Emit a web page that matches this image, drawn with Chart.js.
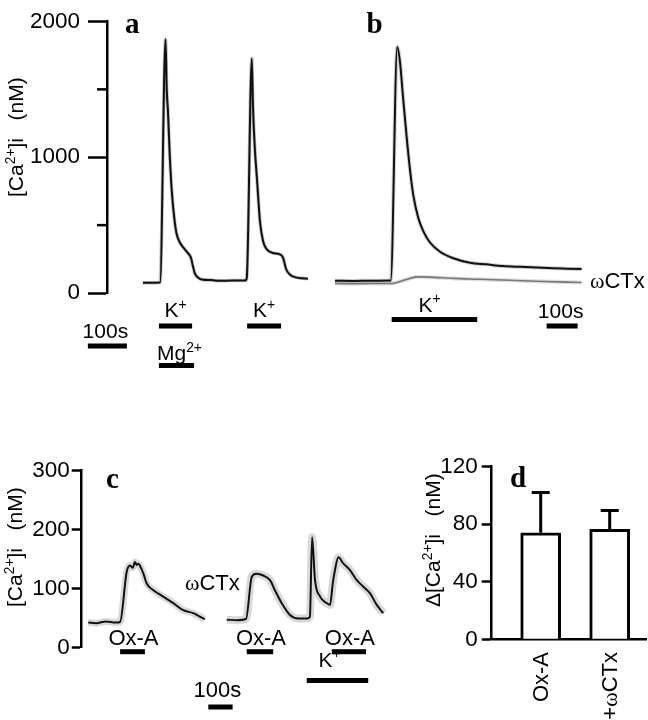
<!DOCTYPE html>
<html><head><meta charset="utf-8">
<script src="https://cdn.jsdelivr.net/npm/chart.js@4/dist/chart.umd.min.js"></script>
<style>
html,body{margin:0;padding:0;background:#fff;}
body{width:648px;height:720px;position:relative;overflow:hidden;}
canvas{position:absolute;}
</style></head><body>
<canvas id="ca" width="320" height="390" style="left:0;top:0"></canvas>
<canvas id="cb" width="328" height="390" style="left:320px;top:0"></canvas>
<canvas id="cc" width="400" height="280" style="left:0;top:440px"></canvas>
<canvas id="cd" width="248" height="280" style="left:400px;top:440px"></canvas>
<script>
// ---------------- DATA ----------------
// Panel a: [Ca2+]i (nM) vs time (s)
const aTime = [0, 20, 44, 58, 61, 64, 69, 74, 80, 86, 95, 105, 115, 123, 128, 133, 141, 151, 175, 197, 230, 262, 266, 279, 282, 287, 292, 300, 308, 318, 333, 351, 359, 367, 377, 392, 410, 423];
const aCa   = [75, 76, 78, 1870, 1500, 1350, 1000, 750, 560, 440, 370, 330, 295, 260, 200, 145, 115, 100, 95, 90, 92, 92, 110, 1727, 1370, 1050, 850, 525, 380, 320, 295, 285, 260, 175, 135, 115, 108, 105];
const aYTicks = [0, 1000, 2000];
const aKStart = [41, 267], aKEnd = [126, 354];
const aMgStart = [41], aMgEnd = [131];
const aScaleBar = [-141, -41];

// Panel b: control and ωCTx traces
const bTime = [0, 60, 120, 180, 201, 210, 220, 231, 242, 253, 269, 285, 306, 339, 382, 436, 489, 543, 597, 651, 704, 750, 796];
const bControl = [88, 87, 89, 90, 1770, 1660, 1400, 1130, 890, 700, 540, 445, 365, 297, 250, 218, 206, 194, 188, 183, 178, 175, 172];
const bTimeCTx = [0, 60, 120, 177, 194, 219, 242, 265, 306, 382, 468, 543, 650, 796];
const bCTx = [68, 67, 68, 68, 72, 90, 105, 116, 114, 105, 99, 93, 84, 76];
const bKStart = [183], bKEnd = [459];
const bScaleBar = [683, 783];

// Panel c: Ox-A responses
const c1Time = [27, 60, 100, 140, 158, 185, 199, 210, 219, 226, 233, 244, 254, 268, 295, 336, 377, 418, 459, 500, 507];
const c1Ca   = [42, 41, 44, 42, 43, 128, 139, 135, 145, 140, 142, 135, 125, 108, 97, 86, 75, 63, 58, 49, 48];
const c2Time = [597, 640, 676, 700, 720, 747, 775, 795, 823, 857, 891, 930, 939, 948, 960, 981, 1008, 1022, 1033, 1042, 1056, 1077, 1104, 1132, 1159, 1186, 1214, 1241];
const c2Ca   = [47, 46, 48, 120, 125, 122, 114, 97, 75, 55, 49, 49, 52, 187, 114, 86, 75, 72, 108, 131, 153, 142, 131, 114, 103, 92, 72, 58];
const cYTicks = [0, 100, 200, 300];
const cOxStart = [158, 679, 1029], cOxEnd = [260, 788, 1170];
const cKStart = [926], cKEnd = [1179];
const cScaleBar = [521, 621];

// Panel d: bar chart
const dCategories = ['Ox-A', '+ωCTx'];
const dMean = [74, 76.5];
const dSem = [28, 13];
const dYTicks = [0, 40, 80, 120];

// ---------------- HELPERS ----------------
const FONT = '"Liberation Sans", Arial, sans-serif';
const SERIF = '"Liberation Serif", "Times New Roman", serif';
const TICKSIZE = 22.5;
Chart.defaults.font.family = FONT;
Chart.defaults.font.size = 21;
Chart.defaults.color = '#000';
Chart.defaults.animation = false;
Chart.defaults.plugins.legend.display = false;
Chart.defaults.plugins.tooltip.enabled = false;

function richParts(text){
  const parts=[]; let cur='', sup=false;
  for (const ch of text){
    if (ch==='{'){ if(cur) parts.push({t:cur,sup}); cur=''; sup=true; }
    else if (ch==='}'){ if(cur) parts.push({t:cur,sup}); cur=''; sup=false; }
    else cur+=ch;
  }
  if(cur) parts.push({t:cur,sup});
  const out=[];
  parts.forEach(p=>p.t.split(/(ω)/).forEach(s=>{ if(s) out.push({t:s,sup:p.sup,serif:s==='ω'}); }));
  return out;
}
function fontFor(p,size){ const s = p.sup? size*0.66 : size; return s+'px '+(p.serif?SERIF:FONT); }
function drawRich(ctx,text,x,y,size,align){
  const parts=richParts(text);
  let w=0; parts.forEach(p=>{ctx.font=fontFor(p,size); p.w=ctx.measureText(p.t).width; w+=p.w;});
  let cx = align==='center'? x-w/2 : align==='right'? x-w : x;
  ctx.textBaseline='alphabetic'; ctx.textAlign='left'; ctx.fillStyle='#000';
  parts.forEach(p=>{ctx.font=fontFor(p,size); ctx.fillText(p.t,cx, y-(p.sup? size*0.4:0)); cx+=p.w;});
  return w;
}
function drawRotRich(ctx,text,x,y,size,align){
  ctx.save(); ctx.translate(x,y); ctx.rotate(-Math.PI/2);
  drawRich(ctx,text,0,0,size,align); ctx.restore();
}
function letter(ctx,t,x,y){
  ctx.save(); ctx.font='bold 29px '+SERIF; ctx.fillStyle='#000';
  ctx.textAlign='left'; ctx.textBaseline='alphabetic'; ctx.fillText(t,x,y); ctx.restore();
}
function hbar(ctx,chart,start,end,y){
  const xs=chart.scales.x;
  const x1=xs.getPixelForValue(start), x2=xs.getPixelForValue(end);
  ctx.save(); ctx.fillStyle='#000'; ctx.fillRect(x1,y-2.5,x2-x1,5); ctx.restore();
  return (x1+x2)/2;
}
function pts(xs,ys){ return xs.map((x,i)=>({x, y: ys[i]})); }
function yAxis(min,max,step,width,tickLen,pad,labelled){
  return {
    type:'linear', min, max, position:'left',
    afterFit: s => { s.width = width; },
    border:{display:true,color:'#000',width:2.5},
    grid:{drawOnChartArea:false,drawTicks:true,tickLength:tickLen,tickWidth:2.5,
      tickColor: c => (labelled.includes(c.tick.value) ? '#000' : 'rgba(0,0,0,0)')},
    ticks:{stepSize:step,padding:pad,autoSkip:false,color:'#000',font:{size:TICKSIZE,family:FONT},
      callback: v => (labelled.includes(v) ? String(v) : '')}
  };
}
function line(data,color,width){
  return {type:'line',data,borderColor:color,borderWidth:width,pointRadius:0,fill:false,
    cubicInterpolationMode:'monotone'};
}
const TITLE = '[Ca{2+}]i   (nM)';

// ---------------- PANEL A ----------------
new Chart(document.getElementById('ca'), {
  type:'line',
  data:{datasets:[ line(pts(aTime,aCa),'#111',2), line(pts(aTime,aCa),'rgba(0,0,0,0.25)',3.5) ]},
  options:{responsive:false,
    layout:{padding:{left:0,top:15,right:3,bottom:97}},
    scales:{ x:{type:'linear',display:false,min:-92,max:446},
             y: yAxis(0,2000,500,107,19,8,aYTicks) },
  },
  plugins:[{id:'decoA',afterDraw(chart){
    const ctx=chart.ctx, ys=chart.scales.y, L=chart.chartArea.left;
    ctx.save(); ctx.strokeStyle='#000'; ctx.lineWidth=2.5;
    [500,1500].forEach(v=>{const y=ys.getPixelForValue(v); ctx.beginPath(); ctx.moveTo(L-10,y); ctx.lineTo(L,y); ctx.stroke();});
    ctx.restore();
    drawRotRich(ctx,TITLE,23,197,21,'left');
    letter(ctx,'a',125,33);
    aKStart.forEach((s,i)=>{ const cx=hbar(ctx,chart,s,aKEnd[i],326); drawRich(ctx,'K{+}',cx,317,21,'center'); });
    aMgStart.forEach((s,i)=>{ const cx=hbar(ctx,chart,s,aMgEnd[i],365.5); drawRich(ctx,'Mg{2+}',cx+3,360,21,'center'); });
    const cx=hbar(ctx,chart,aScaleBar[0],aScaleBar[1],346); drawRich(ctx,'100s',cx-2,338,21,'center');
  }}]
});

// ---------------- PANEL B ----------------
new Chart(document.getElementById('cb'), {
  type:'line',
  data:{datasets:[
    line(pts(bTime,bControl),'#111',2),
    line(pts(bTimeCTx,bCTx),'#777',1.6),
    line(pts(bTime,bControl),'rgba(0,0,0,0.18)',4),
    line(pts(bTimeCTx,bCTx),'rgba(0,0,0,0.12)',4)
  ]},
  options:{responsive:false,
    layout:{padding:{left:10,top:15,right:58,bottom:97}},
    scales:{ x:{type:'linear',display:false,min:-16,max:823},
             y:{type:'linear',display:false,min:0,max:2000} },
  },
  plugins:[{id:'decoB',afterDraw(chart){
    const ctx=chart.ctx;
    letter(ctx,'b',46.5,33);
    bKStart.forEach((s,i)=>{ const cx=hbar(ctx,chart,s,bKEnd[i],319.5); drawRich(ctx,'K{+}',cx-5,311.7,21,'center'); });
    const cx=hbar(ctx,chart,bScaleBar[0],bScaleBar[1],326); drawRich(ctx,'100s',cx-1.5,317.7,21,'center');
    drawRich(ctx,'ωCTx',270,288,22,'left');
  }}]
});

// ---------------- PANEL C ----------------
new Chart(document.getElementById('cc'), {
  type:'line',
  data:{datasets:[
    line(pts(c1Time,c1Ca),'#111',2),
    line(pts(c2Time,c2Ca),'#111',2),
    line(pts(c1Time,c1Ca),'rgba(0,0,0,0.15)',7),
    line(pts(c2Time,c2Ca),'rgba(0,0,0,0.15)',8)
  ]},
  options:{responsive:false,
    layout:{padding:{left:0,top:30.7,right:10,bottom:72.7}},
    scales:{ x:{type:'linear',display:false,min:0,max:1268.6},
             y: yAxis(0,300,100,81.7,10,2,cYTicks) },
  },
  plugins:[{id:'decoC',afterDraw(chart){
    const ctx=chart.ctx;
    drawRotRich(ctx,TITLE,22,167,21,'left');
    letter(ctx,'c',106,48);
    cOxStart.forEach((s,i)=>{ const cx=hbar(ctx,chart,s,cOxEnd[i],211.7); drawRich(ctx,'Ox-A',cx+1,205,22,'center'); });
    cKStart.forEach((s,i)=>{ const cx=hbar(ctx,chart,s,cKEnd[i],240.5); drawRich(ctx,'K{+}',cx-8,226.7,21,'center'); });
    const cx=hbar(ctx,chart,cScaleBar[0],cScaleBar[1],267); drawRich(ctx,'100s',cx-3,256.7,22,'center');
    drawRich(ctx,'ωCTx',185,150,22,'left');
  }}]
});

// ---------------- PANEL D ----------------
new Chart(document.getElementById('cd'), {
  type:'bar',
  data:{datasets:[{
    data: dMean.map((v,i)=>({x:i+1,y:v})),
    backgroundColor:'#fff', borderColor:'#000', borderWidth:3, barThickness:40, borderSkipped:'start'
  }]},
  options:{responsive:false,
    layout:{padding:{left:0,top:26.7,right:1.3,bottom:80.7}},
    scales:{
      x:{type:'linear',min:0.29,max:2.536,display:true,offset:false,bounds:'data',
         afterFit: s => { s.height = 0; },
         border:{display:true,color:'#000',width:2.5},
         grid:{offset:false,drawOnChartArea:false,drawTicks:false}, ticks:{display:false}},
      y: yAxis(0,120,40,91.7,10,4,dYTicks)
    },
  },
  plugins:[{id:'decoD',afterDatasetsDraw(chart){
    const ctx=chart.ctx, xs=chart.scales.x, ys=chart.scales.y;
    ctx.save(); ctx.strokeStyle='#000'; ctx.lineWidth=3;
    dMean.forEach((m,i)=>{
      const x=xs.getPixelForValue(i+1), y0=ys.getPixelForValue(m), y1=ys.getPixelForValue(m+dSem[i]);
      ctx.beginPath(); ctx.moveTo(x,y0); ctx.lineTo(x,y1); ctx.moveTo(x-9,y1); ctx.lineTo(x+9,y1); ctx.stroke();
    });
    ctx.restore();
  }, afterDraw(chart){
    const ctx=chart.ctx, xs=chart.scales.x;
    drawRotRich(ctx,'Δ[Ca{2+}]i   (nM)',40,167,21,'left');
    letter(ctx,'d',110,47);
    dCategories.forEach((c,i)=>{ const x=xs.getPixelForValue(i+1); drawRotRich(ctx,c,x+7.5,212,22,'right'); });
  }}]
});
</script>
</body></html>
